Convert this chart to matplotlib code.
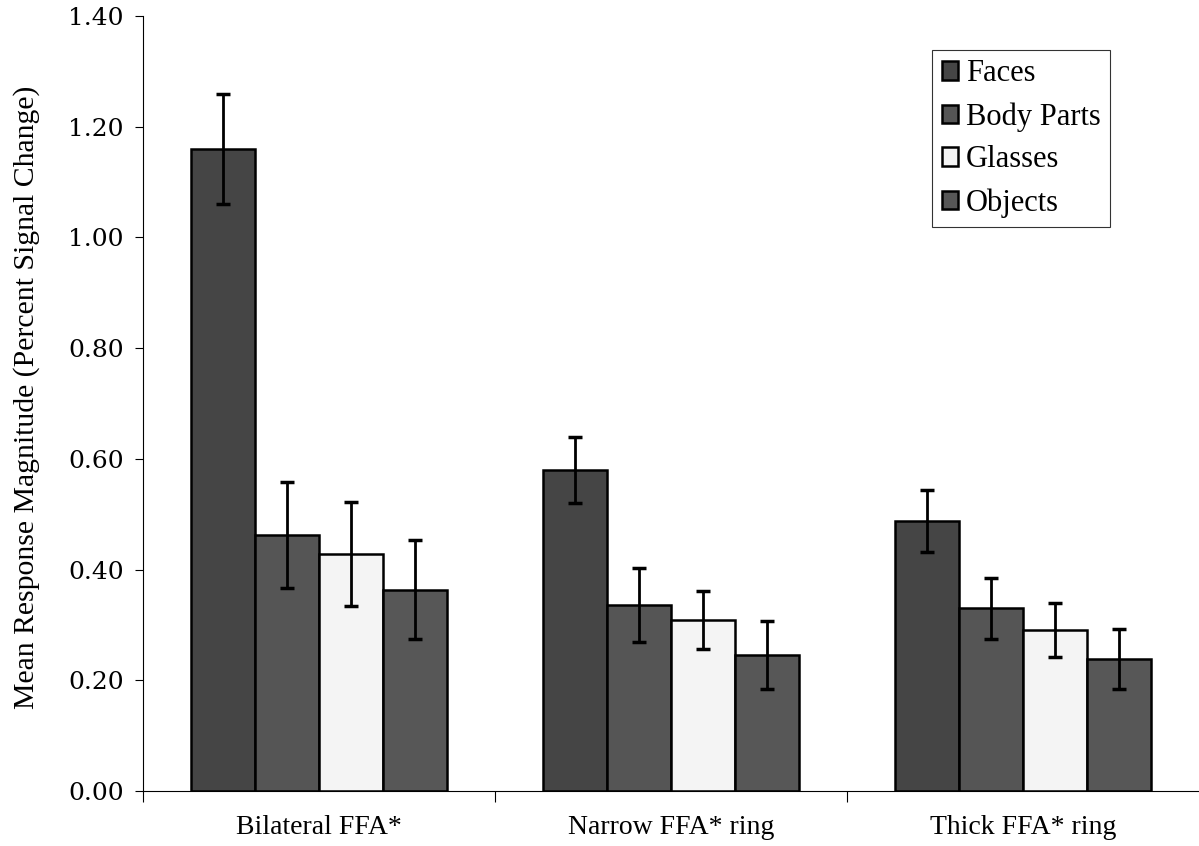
import numpy as np
import matplotlib.pyplot as plt

plt.rcParams['font.family'] = ['Liberation Serif', 'DejaVu Serif']

regions = ['Bilateral FFA*', 'Narrow FFA* ring', 'Thick FFA* ring']
series = ['Faces', 'Body Parts', 'Glasses', 'Objects']
faces = [1.16, 0.58, 0.487]
body_parts = [0.463, 0.336, 0.330]
glasses = [0.428, 0.309, 0.291]
objects = [0.364, 0.246, 0.238]
faces_err = [0.100, 0.060, 0.056]
body_parts_err = [0.096, 0.067, 0.055]
glasses_err = [0.094, 0.052, 0.049]
objects_err = [0.090, 0.062, 0.054]
yticks = [0.0, 0.2, 0.4, 0.6, 0.8, 1.0, 1.2, 1.4]

values = [faces, body_parts, glasses, objects]
errors = [faces_err, body_parts_err, glasses_err, objects_err]
colors = ['#454545', '#555555', '#f4f4f4', '#575757']

fig = plt.figure(figsize=(11.99, 8.46), dpi=100)
ax = fig.add_axes([0.1193, 0.065, 0.8807, 0.916])

x = np.arange(len(regions))
w = 0.182
for i in range(len(series)):
    pos = x + (i - 1.5) * w
    ax.bar(pos, values[i], w, color=colors[i], edgecolor='black', linewidth=1.8,
           label=series[i], zorder=2)
    ax.errorbar(pos, values[i], yerr=errors[i], fmt='none', ecolor='black',
                elinewidth=2, capsize=4.7, capthick=2.5, zorder=3)

ax.set_xlim(-0.5, 2.5)
ax.set_ylim(0, 1.4)
ax.set_yticks(yticks)
ax.set_yticklabels(['{:.2f}'.format(t) for t in yticks], fontsize=18,
                   family=['DejaVu Serif'])
ax.set_xticks(x)
ax.set_xticklabels(regions, fontsize=20)
ax.tick_params(axis='x', length=0, pad=17)
ax.set_xticks([-0.5, 0.5, 1.5], minor=True)
ax.tick_params(axis='x', which='minor', length=8, width=0.8, direction='out')
ax.tick_params(axis='y', length=6, width=0.8, direction='out', pad=8)
ax.set_ylabel('Mean Response Magnitude (Percent Signal Change)', fontsize=21.4)
ax.yaxis.set_label_coords(-0.098, 0.508)

ax.spines['top'].set_visible(False)
ax.spines['right'].set_visible(False)
ax.spines['left'].set_linewidth(0.8)
ax.spines['bottom'].set_linewidth(0.8)

leg = ax.legend(loc='upper right', bbox_to_anchor=(0.9157, 0.956), fontsize=22,
                frameon=True, fancybox=False, edgecolor='black',
                borderaxespad=0, handlelength=0.55, handleheight=0.55,
                handletextpad=0.25, labelspacing=0.45, borderpad=0.3)
leg.get_frame().set_linewidth(0.8)

plt.savefig('out.png', dpi=100)
